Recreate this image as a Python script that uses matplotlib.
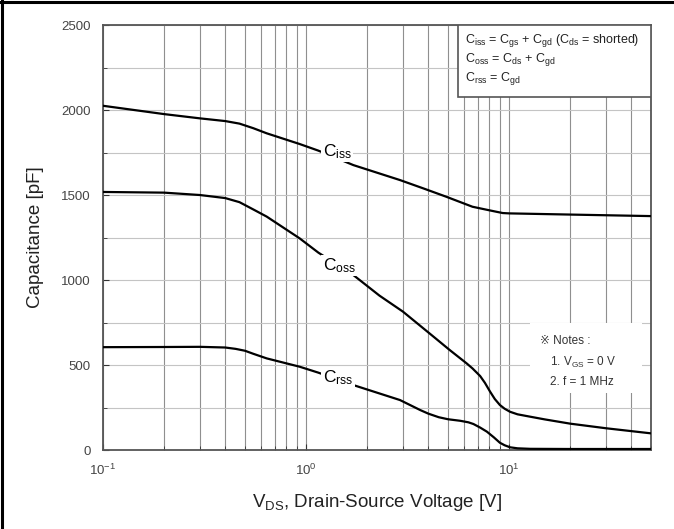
import numpy as np
import matplotlib
matplotlib.use('Agg')
import matplotlib.pyplot as plt
from matplotlib.ticker import MultipleLocator, LogLocator, NullFormatter
from matplotlib.patches import Rectangle
from matplotlib.lines import Line2D

plt.rcParams['font.family'] = ['Liberation Sans', 'DejaVu Sans']

# --- datos ---
v_iss = [0.1, 0.2, 0.3, 0.4, 0.47, 0.55, 0.64, 0.93, 1.15, 1.71, 2.9, 3.8, 4.9, 6.6, 8.0, 8.7, 9.3, 10, 20, 50]
c_iss = [2025, 1976, 1951, 1935, 1920, 1893, 1863, 1800, 1761, 1676, 1588, 1538, 1490, 1431, 1410, 1401, 1394, 1392, 1385, 1376]

v_oss = [0.1, 0.2, 0.3, 0.4, 0.47, 0.55, 0.64, 0.93, 1.15, 1.71, 2.3, 3.0, 4.24, 5.1, 6.17, 6.6, 7.2, 7.6, 8.06,
         8.5, 9.0, 9.5, 10.1, 11, 12.7, 15, 20, 30, 50]
c_oss = [1518, 1514, 1500, 1482, 1458, 1415, 1373, 1245, 1161, 1029, 908, 814, 667, 588, 510, 480, 435, 395, 343,
         300, 265, 243, 225, 210, 196, 180, 155, 128, 98]

v_rss = [0.1, 0.2, 0.3, 0.4, 0.45, 0.5, 0.55, 0.64, 0.93, 1.15, 1.71, 2.9, 3.65, 4.0, 4.5, 5.0, 5.74, 6.3, 6.67,
         7.2, 7.77, 8.4, 9.0, 9.5, 10.1, 11, 12.7, 20, 50]
c_rss = [605, 606, 607, 603, 595, 584, 566, 539, 490, 455, 382, 294, 235, 214, 193, 181, 172, 163, 153,
         132, 108, 75, 43, 28, 16, 10, 7, 6, 6]

curve_labels = ['iss', 'oss', 'rss']
label_pos = [(1.21, 1728), (1.21, 1057), (1.21, 398)]

legend_lines = [
    'C$\\mathregular{_{iss}}$ = C$\\mathregular{_{gs}}$ + C$\\mathregular{_{gd}}$ (C$\\mathregular{_{ds}}$ = shorted)',
    'C$\\mathregular{_{oss}}$ = C$\\mathregular{_{ds}}$ + C$\\mathregular{_{gd}}$',
    'C$\\mathregular{_{rss}}$ = C$\\mathregular{_{gd}}$',
]
notes_lines = ['\u203b Notes :', '1. V$\\mathregular{_{GS}}$ = 0 V', '2. f = 1 MHz']

fig = plt.figure(figsize=(6.74, 5.29), dpi=100)
ax = fig.add_axes([0.1528, 0.1493, 0.8132, 0.8034])

ax.set_xscale('log')
ax.set_xlim(0.1, 50)
ax.set_ylim(0, 2500)

ax.xaxis.set_major_locator(LogLocator(base=10))
ax.xaxis.set_minor_locator(LogLocator(base=10, subs=np.arange(2, 10)))
ax.xaxis.set_minor_formatter(NullFormatter())
ax.yaxis.set_major_locator(MultipleLocator(500))
ax.yaxis.set_minor_locator(MultipleLocator(250))

ax.grid(True, which='both', axis='x', color='#8f8f8f', linewidth=0.8)
ax.grid(True, which='both', axis='y', color='#c4c4c4', linewidth=0.8)
ax.set_axisbelow(True)

ax.tick_params(which='both', direction='in', color='#333333')
ax.tick_params(which='major', length=4)
ax.tick_params(which='minor', length=3)
ax.tick_params(axis='y', labelsize=9.5, labelcolor='#444444', pad=9)
ax.tick_params(axis='x', labelsize=9.5, labelcolor='#444444', pad=9)
for s in ax.spines.values():
    s.set_color('#555555')
    s.set_linewidth(1.3)

for v, c in [(v_iss, c_iss), (v_oss, c_oss), (v_rss, c_rss)]:
    ax.plot(v, c, color='black', linewidth=1.6, zorder=3)

for name, (lx, ly) in zip(curve_labels, label_pos):
    ax.text(lx, ly, 'C$\\mathregular{_{%s}}$' % name, fontsize=12.5, ha='left', va='baseline',
            zorder=4, bbox=dict(facecolor='white', edgecolor='none', pad=1.0))

# cuadro de ecuaciones
ax.add_patch(Rectangle((0.648, 0.8306), 0.352, 0.1694, transform=ax.transAxes,
                       facecolor='white', edgecolor='#555555', linewidth=1.2, zorder=5))
for txt, yy in zip(legend_lines, [0.963, 0.918, 0.873]):
    ax.text(0.661, yy, txt, transform=ax.transAxes, fontsize=9, va='center', ha='left',
            color='#222222', zorder=6)

# notas
ax.add_patch(Rectangle((0.779, 0.134), 0.205, 0.165, transform=ax.transAxes,
                       facecolor='white', edgecolor='none', zorder=2))
for txt, xx, yy in zip(notes_lines, [0.797, 0.816, 0.816], [0.256, 0.207, 0.16]):
    ax.text(xx, yy, txt, transform=ax.transAxes, fontsize=8.5, va='center', ha='left',
            color='#333333', zorder=6)

ax.set_ylabel('Capacitance [pF]', fontsize=13.5, color='#222222', labelpad=12)
ax.set_xlabel('V$\\mathregular{_{DS}}$, Drain-Source Voltage [V]', fontsize=13.5, color='#222222', labelpad=10)

# marco negro de la imagen
fig.add_artist(Line2D([0.003, 0.003], [0, 1], transform=fig.transFigure, color='black', linewidth=2.2))
fig.add_artist(Line2D([0, 1], [0.997, 0.997], transform=fig.transFigure, color='black', linewidth=2.2))

fig.savefig('out.png', dpi=100)
